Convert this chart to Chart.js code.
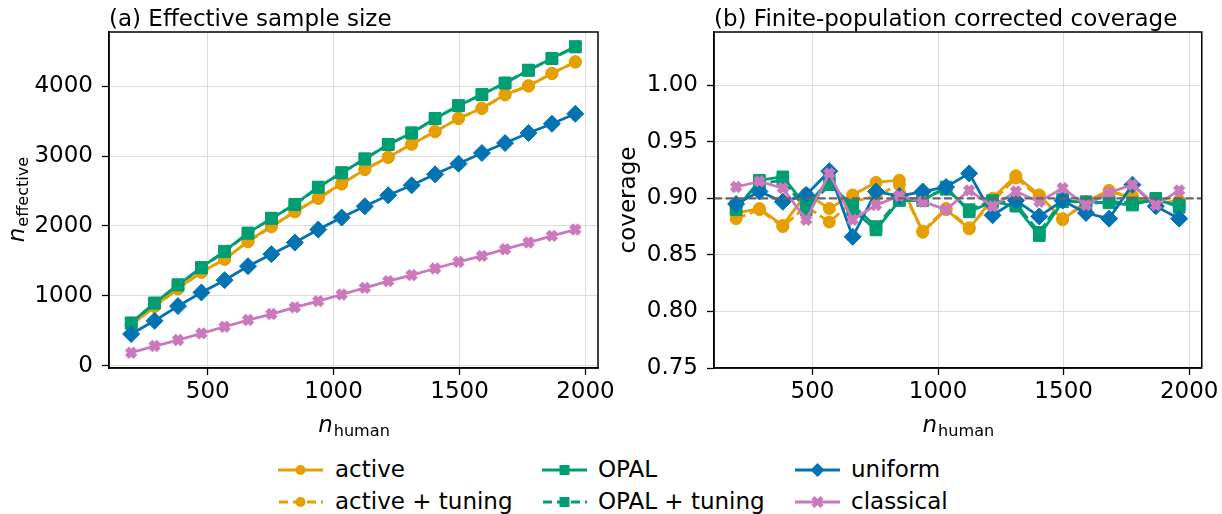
<!DOCTYPE html>
<html>
<head>
<meta charset="utf-8">
<script src="https://cdn.jsdelivr.net/npm/chart.js@4/dist/chart.umd.min.js"></script>
<style>
  body { margin: 0; background: #fff; width: 1222px; height: 514px; overflow: hidden; position: relative; font-family: "DejaVu Sans", sans-serif; }
  .panel { position: absolute; top: 0; }
  #legend .item { position: absolute; height: 24px; font-size: 23px; line-height: 24px; color: #000; white-space: nowrap; }
  #legend svg { position: absolute; top: 0; }
  #legend span { position: absolute; top: -1px; }
</style>
</head>
<body>
<div class="panel" style="left:0;width:630px;height:440px"><canvas id="essChart" width="630" height="440"></canvas></div>
<div class="panel" style="left:600px;width:622px;height:440px"><canvas id="covChart" width="622" height="440"></canvas></div>
<div id="legend"></div>
<script>
"use strict";

// n_human values (shared x axis)
var nHuman = [196, 289, 382, 475, 567, 660, 753, 846, 939, 1032, 1124, 1217, 1310, 1403, 1496, 1589, 1681, 1774, 1867, 1960];

// (a) effective sample size
var essActive = [581, 853, 1105, 1343, 1520, 1781, 1995, 2200, 2400, 2605, 2805, 2986, 3167, 3353, 3534, 3686, 3881, 4000, 4186, 4343];
var essActiveTuning = [575, 846, 1098, 1335, 1528, 1772, 1988, 2206, 2392, 2598, 2812, 2979, 3174, 3346, 3541, 3679, 3874, 4008, 4179, 4350];
var essOpal = [614, 900, 1153, 1406, 1639, 1900, 2105, 2310, 2557, 2757, 2962, 3162, 3334, 3534, 3724, 3877, 4048, 4224, 4400, 4567];
var essOpalTuning = [608, 893, 1160, 1399, 1632, 1893, 2112, 2303, 2550, 2764, 2955, 3169, 3327, 3541, 3717, 3884, 4041, 4231, 4393, 4560];
var essUniform = [453, 643, 853, 1048, 1224, 1424, 1596, 1762, 1948, 2120, 2281, 2438, 2581, 2738, 2891, 3043, 3186, 3329, 3462, 3605];
var essClassical = [186, 281, 367, 462, 557, 653, 739, 834, 924, 1019, 1114, 1210, 1296, 1391, 1486, 1571, 1667, 1762, 1857, 1948];

// (b) coverage
var covActive = [0.887, 0.891, 0.876, 0.904, 0.891, 0.903, 0.914, 0.916, 0.870, 0.890, 0.873, 0.900, 0.920, 0.903, 0.881, 0.897, 0.907, 0.900, 0.896, 0.897];
var covActiveTuning = [0.882, 0.890, 0.875, 0.893, 0.879, 0.897, 0.902, 0.912, 0.871, 0.891, 0.874, 0.897, 0.918, 0.901, 0.882, 0.895, 0.905, 0.902, 0.895, 0.898];
var covOpal = [0.890, 0.916, 0.919, 0.893, 0.916, 0.890, 0.872, 0.898, 0.898, 0.910, 0.888, 0.897, 0.893, 0.867, 0.897, 0.897, 0.896, 0.894, 0.900, 0.892];
var covOpalTuning = [0.893, 0.913, 0.916, 0.890, 0.912, 0.894, 0.875, 0.899, 0.900, 0.908, 0.890, 0.898, 0.895, 0.870, 0.899, 0.895, 0.897, 0.896, 0.898, 0.894];
var covUniform = [0.895, 0.906, 0.897, 0.903, 0.924, 0.866, 0.906, 0.902, 0.906, 0.910, 0.922, 0.885, 0.898, 0.884, 0.898, 0.887, 0.882, 0.912, 0.893, 0.882];
var covClassical = [0.910, 0.915, 0.909, 0.881, 0.922, 0.881, 0.894, 0.902, 0.897, 0.890, 0.907, 0.893, 0.906, 0.897, 0.909, 0.894, 0.905, 0.912, 0.894, 0.907];

var nominalCoverage = 0.9;

var essTicks = [0, 1000, 2000, 3000, 4000];
var covTicks = [0.75, 0.80, 0.85, 0.90, 0.95, 1.00];
var xTicks = [500, 1000, 1500, 2000];

var FONT = '"DejaVu Sans"';
var FS = 23;

// series look, in legend order (column by column)
var series = [
  { label: "active", color: "#E69F00", dash: [], point: "circle", radius: 6 },
  { label: "active + tuning", color: "#E69F00", dash: [10, 4.5], point: "circle", radius: 6 },
  { label: "OPAL", color: "#029E73", dash: [], point: "rect", radius: 8.2 },
  { label: "OPAL + tuning", color: "#029E73", dash: [10, 4.5], point: "rect", radius: 8.2 },
  { label: "uniform", color: "#0173B2", dash: [], point: "rectRot", radius: 8.5 },
  { label: "classical", color: "#CC78BC", dash: [], point: "crossRot", radius: 6 }
];

function toXY(ys) {
  return ys.map(function (y, i) { return { x: nHuman[i], y: y }; });
}

function makeDatasets(arrays) {
  return arrays.map(function (arr, i) {
    var s = series[i];
    return {
      label: s.label,
      data: toXY(arr),
      borderColor: s.color,
      backgroundColor: s.color,
      borderWidth: 2.8,
      borderDash: s.dash,
      pointStyle: s.point,
      pointRadius: s.radius,
      pointBorderWidth: s.point == "crossRot" ? 5.5 : 1,
      pointBackgroundColor: s.color,
      pointBorderColor: s.color,
      order: arrays.length - i, // later series sit on top, like matplotlib
      tension: 0,
      clip: false
    };
  });
}

// draws the sub-scripted axis label, e.g. n_human
function drawSubLabel(ctx, main, sub, cx, baseline) {
  ctx.font = "italic " + FS + "px " + FONT;
  var wMain = ctx.measureText(main).width;
  ctx.font = (FS * 0.7) + "px " + FONT;
  var wSub = ctx.measureText(sub).width;
  var x0 = cx - (wMain + wSub) / 2;
  ctx.textAlign = "left";
  ctx.textBaseline = "alphabetic";
  ctx.font = "italic " + FS + "px " + FONT;
  ctx.fillText(main, x0, baseline);
  ctx.font = (FS * 0.7) + "px " + FONT;
  ctx.fillText(sub, x0 + wMain + 1, baseline + 4);
}

var decorPlugin = {
  id: "decor",
  afterDatasetsDraw: function (chart) {
    var o = chart.options.plugins.decor;
    if (o.refLine == null) return;
    var ctx = chart.ctx, a = chart.chartArea;
    var y = chart.scales.y.getPixelForValue(o.refLine);
    ctx.save();
    ctx.strokeStyle = "#666666";
    ctx.lineWidth = 2.2;
    ctx.setLineDash([8, 3.5]);
    ctx.beginPath();
    ctx.moveTo(a.left, y);
    ctx.lineTo(a.right, y);
    ctx.stroke();
    ctx.restore();
  },
  afterDraw: function (chart) {
    var o = chart.options.plugins.decor;
    var ctx = chart.ctx, a = chart.chartArea;
    ctx.save();
    // all four spines
    ctx.strokeStyle = "#000";
    ctx.lineWidth = 1.5;
    ctx.strokeRect(a.left, a.top, a.right - a.left, a.bottom - a.top);
    ctx.fillStyle = "#000";
    // panel title
    ctx.font = FS + "px " + FONT;
    ctx.textAlign = "left";
    ctx.textBaseline = "alphabetic";
    ctx.fillText(o.title, a.left, 26);
    // x label
    drawSubLabel(ctx, "n", "human", (a.left + a.right) / 2, 432);
    // y label
    ctx.translate(o.yLabelX, (a.top + a.bottom) / 2);
    ctx.rotate(-Math.PI / 2);
    if (o.yLabelSub) {
      drawSubLabel(ctx, o.yLabel, o.yLabelSub, 0, 0);
    } else {
      ctx.font = FS + "px " + FONT;
      ctx.textAlign = "center";
      ctx.fillText(o.yLabel, 0, 0);
    }
    ctx.restore();
  }
};

function makeChart(canvasId, arrays, cfg) {
  var ctx = document.getElementById(canvasId).getContext("2d");
  return new Chart(ctx, {
    type: "line",
    data: { datasets: makeDatasets(arrays) },
    plugins: [decorPlugin],
    options: {
      responsive: false,
      animation: false,
      devicePixelRatio: 1,
      layout: { padding: { top: 32, right: cfg.padRight, left: 0, bottom: 0 } },
      plugins: {
        legend: { display: false },
        tooltip: { enabled: false },
        decor: { title: cfg.title, yLabel: cfg.yLabel, yLabelSub: cfg.yLabelSub, yLabelX: cfg.yLabelX, refLine: cfg.refLine }
      },
      scales: {
        x: {
          type: "linear",
          min: 108,
          max: 2050,
          afterBuildTicks: function (scale) {
            scale.ticks = xTicks.map(function (v) { return { value: v }; });
          },
          afterFit: function (scale) { scale.height = 72; },
          grid: { color: "#dddddd", lineWidth: 1, tickLength: 7, tickColor: "#000", tickWidth: 1.3 },
          border: { color: "#000", width: 1.5 },
          ticks: {
            color: "#000", font: { family: "DejaVu Sans", size: FS }, padding: 3, maxRotation: 0, autoSkip: false,
            callback: function (v) { return String(v); }
          }
        },
        y: {
          type: "linear",
          min: cfg.yMin,
          max: cfg.yMax,
          afterBuildTicks: function (scale) {
            scale.ticks = cfg.yTicks.map(function (v) { return { value: v }; });
          },
          afterFit: function (scale) { scale.width = cfg.axisLeft; },
          grid: { color: "#dddddd", lineWidth: 1, tickLength: 7, tickColor: "#000", tickWidth: 1.3 },
          border: { color: "#000", width: 1.5 },
          ticks: {
            color: "#000",
            font: { family: "DejaVu Sans", size: FS },
            padding: 9,
            callback: function (v) { return cfg.yFormat(v); }
          }
        }
      }
    }
  });
}

//-----------------------
//- (a) EFFECTIVE SIZE  -
//-----------------------
makeChart("essChart",
  [essActive, essActiveTuning, essOpal, essOpalTuning, essUniform, essClassical],
  {
    title: "(a) Effective sample size",
    yLabel: "n", yLabelSub: "effective", yLabelX: 24,
    yMin: -33, yMax: 4775, yTicks: essTicks,
    yFormat: function (v) { return String(v); },
    axisLeft: 109, padRight: 32, refLine: null
  });

//-----------------------
//- (b) COVERAGE        -
//-----------------------
makeChart("covChart",
  [covActive, covActiveTuning, covOpal, covOpalTuning, covUniform, covClassical],
  {
    title: "(b) Finite-population corrected coverage",
    yLabel: "coverage", yLabelSub: null, yLabelX: 35,
    yMin: 0.75, yMax: 1.047, yTicks: covTicks,
    yFormat: function (v) { return v.toFixed(2); },
    axisLeft: 114, padRight: 20, refLine: nominalCoverage
  });

//-----------------------
//- LEGEND (3 columns)  -
//-----------------------
var legendCols = [278, 542, 795];
var legendRows = [458, 490];

function handleSvg(s) {
  var w = 45, h = 24, cy = 12, cx = 22.5;
  var line = '<line x1="0" y1="' + cy + '" x2="' + w + '" y2="' + cy + '" stroke="' + s.color + '" stroke-width="3"' +
    (s.dash.length ? ' stroke-dasharray="9,5" stroke-dashoffset="-1"' : '') + '/>';
  var mark = '';
  if (s.point == "circle") mark = '<circle cx="' + cx + '" cy="' + cy + '" r="5" fill="' + s.color + '"/>';
  if (s.point == "rect") mark = '<rect x="' + (cx - 5) + '" y="' + (cy - 5) + '" width="10" height="10" fill="' + s.color + '"/>';
  if (s.point == "rectRot") mark = '<polygon points="' + cx + ',' + (cy - 7) + ' ' + (cx + 7) + ',' + cy + ' ' + cx + ',' + (cy + 7) + ' ' + (cx - 7) + ',' + cy + '" fill="' + s.color + '"/>';
  if (s.point == "crossRot") mark = '<path d="M' + (cx - 4.5) + ',' + (cy - 4.5) + 'L' + (cx + 4.5) + ',' + (cy + 4.5) + 'M' + (cx + 4.5) + ',' + (cy - 4.5) + 'L' + (cx - 4.5) + ',' + (cy + 4.5) + '" stroke="' + s.color + '" stroke-width="4.5"/>';
  return '<svg width="' + w + '" height="' + h + '">' + line + mark + '</svg>';
}

var legendHtml = "";
series.forEach(function (s, i) {
  var col = Math.floor(i / 2), row = i % 2;
  legendHtml += '<div class="item" style="left:' + legendCols[col] + 'px;top:' + legendRows[row] + 'px">' +
    handleSvg(s) + '<span style="left:' + (col == 0 ? 57 : 56) + 'px">' + s.label + '</span></div>';
});
document.getElementById("legend").innerHTML = legendHtml;
</script>
</body>
</html>
